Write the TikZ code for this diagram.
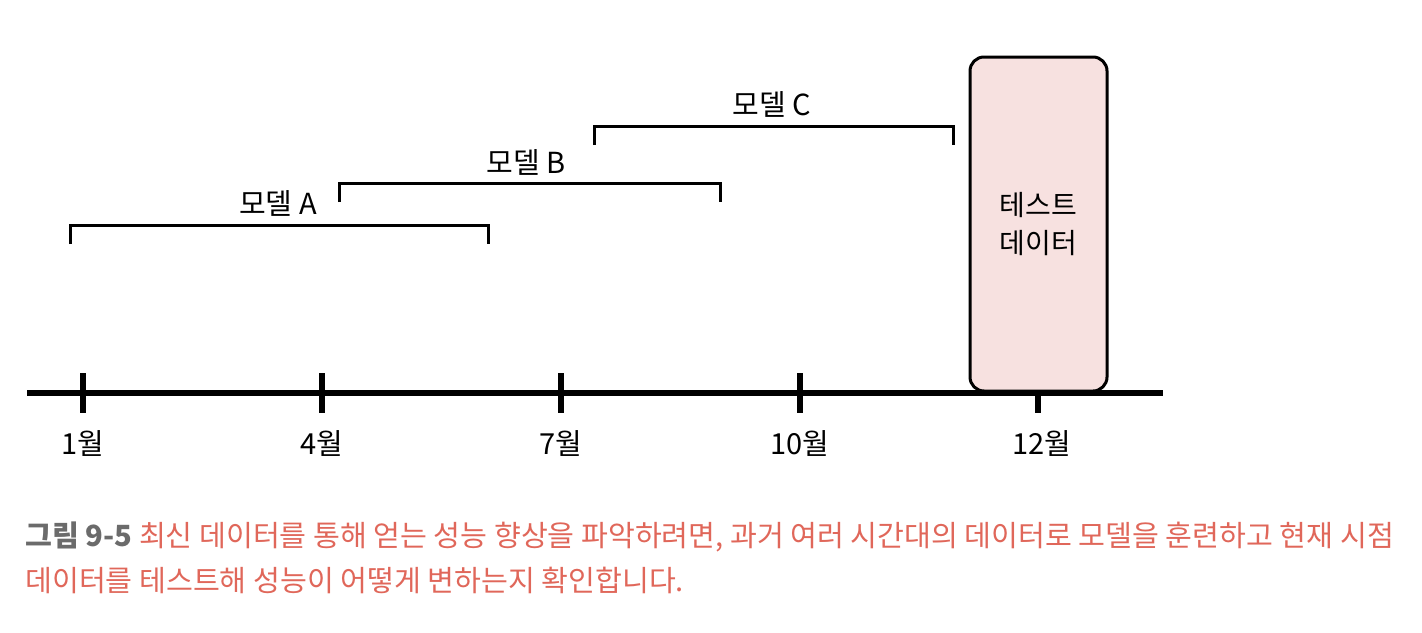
\documentclass[tikz,border=0pt]{standalone}
\usepackage{fontspec}
\setmainfont{Noto Sans CJK KR}
\usetikzlibrary{positioning}
\definecolor{capred}{HTML}{E0675A}
\definecolor{capgray}{HTML}{6B6B6B}
\definecolor{boxpink}{HTML}{F7E1E0}

\begin{document}
\begin{tikzpicture}[x=0.5pt,y=-0.5pt,
	lbl/.style={font=\fontsize{14.5}{16}\selectfont, inner sep=0pt},
	brk/.style={line width=1.5pt},
	tick/.style={line width=3pt}]
		\useasboundingbox (0,0) rectangle (1422,632);
		% timeline
		\coordinate (t0) at (27,393);
		\coordinate (t1) at (1163,393);
		\draw[line width=3pt] (t0) -- (t1);
		\foreach \x/\m in {83/1, 322/4, 561/7, 800/10}{
			\draw[tick] (\x,373) -- (\x,413);
			\node[lbl] (m\m) at (\x,443) {\m{}월};
		}
		\draw[tick] (1038,393) -- (1038,413);
		\node[lbl] (m12) at (1042,443) {12월};
		% test data box
		\node[draw, line width=1.5pt, rounded corners=7pt, fill=boxpink,
			minimum width=68.5pt, minimum height=167pt, align=center,
			font=\fontsize{14}{19}\selectfont] (test) at (1038.5,224) {테스트\\데이터};
		% model windows
		\draw[brk] (70,244) -- (70,225) -- (488,225) -- (488,244);
		\node[lbl] (ma) at (278,203) {모델 A};
		\draw[brk] (339,202) -- (339,183) -- (720,183) -- (720,202);
		\node[lbl] (mb) at (526,162) {모델 B};
		\draw[brk] (594,145) -- (594,126) -- (953,126) -- (953,145);
		\node[lbl] (mc) at (772,104) {모델 C};
		% caption
		\node[anchor=west, inner sep=0pt, align=left, text=capred,
			font=\fontsize{14.6}{22.5}\selectfont] (cap) at (25,558)
			{{\bfseries\color{capgray}그림 9-5} 최신 데이터를 통해 얻는 성능 향상을 파악하려면, 과거 여러 시간대의 데이터로 모델을 훈련하고 현재 시점\\데이터를 테스트해 성능이 어떻게 변하는지 확인합니다.};
\end{tikzpicture}
\end{document}
